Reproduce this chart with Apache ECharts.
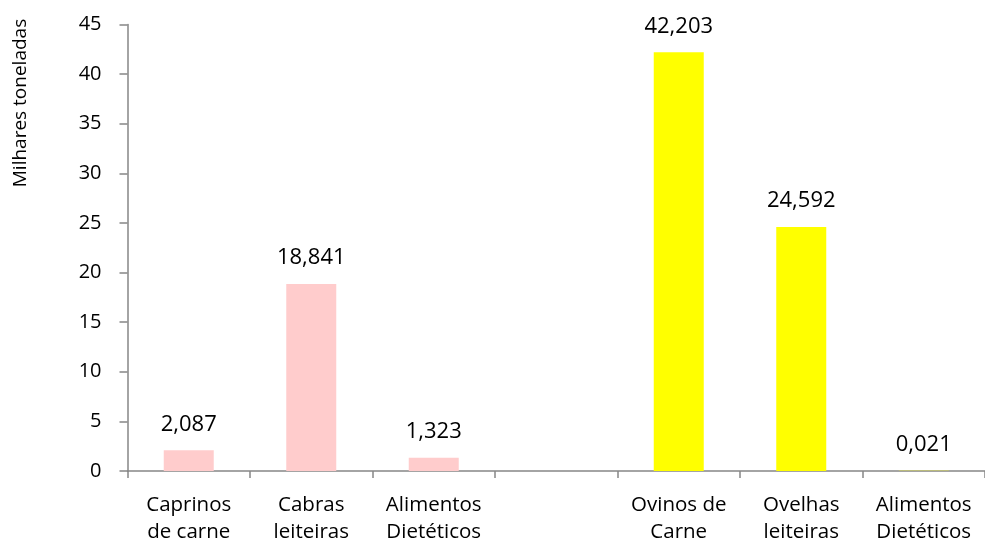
<!DOCTYPE html>
<html>
<head>
<meta charset="utf-8">
<script src="https://cdn.jsdelivr.net/npm/echarts@6/dist/echarts.min.js"></script>
<style>html,body{margin:0;padding:0;background:#fff}#c{width:985px;height:549px}</style>
</head>
<body>
<div id="c"></div>
<script>
const categories = ["Caprinos\nde carne", "Cabras\nleiteiras", "Alimentos\nDietéticos", "", "Ovinos de\nCarne", "Ovelhas\nleiteiras", "Alimentos\nDietéticos"];
const caprinos = [2.087, 18.841, 1.323, null, null, null, null];
const ovinos = [null, null, null, null, 42.203, 24.592, 0.021];
const yTicks = {min: 0, max: 45, interval: 5};
const yName = "Milhares toneladas";

const FONT = "'Open Sans', 'Noto Sans', sans-serif";
const axisGray = '#868686';
const fmt = p => p.value == null ? '' : Number(p.value).toFixed(3).replace('.', ',');
const labelCfg = {show: true, position: 'top', distance: 15, color: '#000', fontFamily: FONT, fontSize: 22, formatter: fmt};

const chart = echarts.init(document.getElementById('c'), null, {renderer: 'canvas'});
chart.setOption({
  animation: false,
  backgroundColor: '#fff',
  grid: {left: 127.5, top: 24.5, width: 862.5, bottom: 78, containLabel: false},
  xAxis: {
    type: 'category', data: categories,
    axisLine: {lineStyle: {color: axisGray, width: 1.5}},
    axisTick: {show: true, length: 7, lineStyle: {color: axisGray, width: 1.5}},
    axisLabel: {color: '#000', fontFamily: FONT, fontSize: 20.5, lineHeight: 27, margin: 21, interval: 0}
  },
  yAxis: {
    type: 'value', min: yTicks.min, max: yTicks.max, interval: yTicks.interval,
    axisLine: {show: true, lineStyle: {color: axisGray, width: 1.5}},
    axisTick: {show: true, length: 8, lineStyle: {color: axisGray, width: 1.5}},
    splitLine: {show: false},
    axisLabel: {color: '#000', fontFamily: FONT, fontSize: 20, margin: 26}
  },
  graphic: [{
    type: 'text', x: 20.5, y: 103, rotation: Math.PI / 2,
    style: {text: yName, fill: '#000', font: "19px " + FONT, textAlign: 'center', textVerticalAlign: 'middle'}
  }],
  series: [
    {type: 'bar', stack: 's', data: caprinos, barWidth: 50, itemStyle: {color: '#FFCCCC'}, label: labelCfg},
    {type: 'bar', stack: 's', data: ovinos, barWidth: 50, itemStyle: {color: '#FFFF00'}, label: labelCfg}
  ]
});
</script>
</body>
</html>
